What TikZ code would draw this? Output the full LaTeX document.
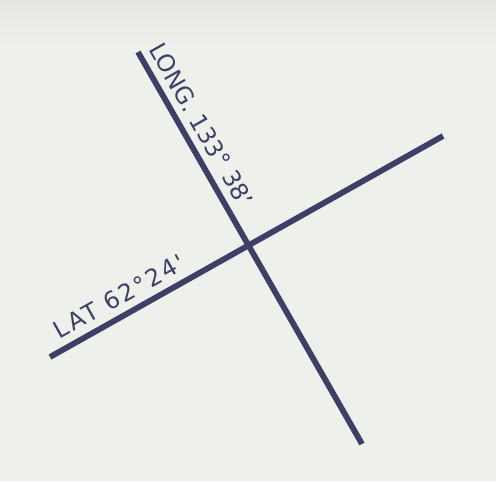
\documentclass[tikz,border=0pt]{standalone}
\usepackage{fontspec}
\setmainfont{DejaVu Sans}
\newfontfamily\widefont[LetterSpace=9]{DejaVu Sans}
\usetikzlibrary{calc,positioning}
\definecolor{paper}{HTML}{EEF1EB}
\definecolor{papertop}{HTML}{E4E7E2}
\definecolor{inkblue}{HTML}{3F3E66}
\tikzset{
  gridline/.style={draw=inkblue, line width=3.3pt, line cap=butt},
  gridlabel/.style={text=inkblue, font=\fontsize{13.5}{14}\selectfont, inner sep=4pt},
  widelabel/.style={gridlabel, font=\widefont\fontsize{13.5}{14}\selectfont}
}
\begin{document}
\begin{tikzpicture}[x=0.02cm, y=-0.02cm]
  % paper
  \fill[paper] (0,0) rectangle (496,481);
  \shade[top color=papertop, bottom color=paper] (0,0) rectangle (496,45);
  \useasboundingbox (0,0) rectangle (496,481);
  % line ends
  \coordinate (longN) at (138,52);
  \coordinate (longS) at (362,444);
  \coordinate (latW) at (50,357);
  \coordinate (latE) at (443,136);
  % meridian and parallel
  \draw[gridline] (longN) -- node[gridlabel, sloped, above, pos=0.21] (longlabel) {LONG. 133° 38'} (longS);
  \draw[gridline] (latW) -- node[widelabel, sloped, above, pos=0.2] (latlabel) {LAT 62°24'} (latE);
\end{tikzpicture}
\end{document}
